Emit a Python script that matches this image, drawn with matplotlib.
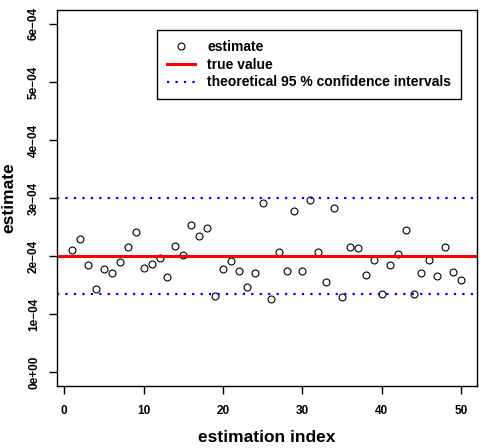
import numpy as np
import matplotlib
matplotlib.use("Agg")
import matplotlib.pyplot as plt
from matplotlib.lines import Line2D

plt.rcParams["font.family"] = ["Liberation Sans", "DejaVu Sans"]
plt.rcParams["font.weight"] = "bold"

# estimates (units of 1e-4)
idx = np.arange(1, 51)
est = np.array([
    2.11, 2.30, 1.85, 1.44, 1.78, 1.70, 1.89, 2.15, 2.42, 1.79,
    1.86, 1.96, 1.63, 2.17, 2.02, 2.53, 2.35, 2.49, 1.31, 1.77,
    1.91, 1.75, 1.46, 1.70, 2.91, 1.26, 2.07, 1.74, 2.78, 1.75,
    2.96, 2.07, 1.56, 2.82, 1.29, 2.16, 2.13, 1.67, 1.93, 1.35,
    1.84, 2.04, 2.44, 1.34, 1.71, 1.94, 1.65, 2.16, 1.73, 1.58,
]) * 1e-4
true_value = 2.0e-4
ci_low = 1.35e-4
ci_high = 3.0e-4

yticks = np.arange(0, 7) * 1e-4
ytick_labels = ["0e+00", "1e\u221204", "2e\u221204", "3e\u221204",
                "4e\u221204", "5e\u221204", "6e\u221204"]
xticks = [0, 10, 20, 30, 40, 50]

fig = plt.figure(figsize=(4.82, 4.48), dpi=100)
ax = fig.add_axes([0.1176, 0.1384, 0.8714, 0.9777 - 0.1384])

ax.plot(idx, est, "o", mfc="none", mec="black", ms=5, mew=0.8)
ax.axhline(true_value, color="red", lw=2.2)
dot = (0, (1, 2.8))
ax.axhline(ci_low, color="blue", lw=1.6, ls=dot, dash_capstyle="butt")
ax.axhline(ci_high, color="blue", lw=1.6, ls=dot, dash_capstyle="butt")

ax.set_xlim(-0.96, 51.96)
ax.set_ylim(-0.24e-4, 6.24e-4)
ax.set_xticks(xticks)
ax.set_xticklabels([str(t) for t in xticks], fontsize=8.5, fontweight="bold")
ax.set_yticks(yticks)
ax.set_yticklabels(ytick_labels, fontsize=8.5, fontweight="bold",
                   rotation=90, va="center")
ax.tick_params(direction="out", length=6, width=1)
ax.tick_params(axis="x", pad=8)
ax.tick_params(axis="y", pad=6)
for s in ax.spines.values():
    s.set_linewidth(1)

ax.set_xlabel("estimation index", fontsize=12.5, fontweight="bold", labelpad=9)
ax.set_ylabel("estimate", fontsize=12.5, fontweight="bold", va="center")
ax.yaxis.set_label_coords(-0.114, 0.5)

handles = [
    Line2D([], [], marker="o", ls="none", mfc="none", mec="black", ms=5, mew=0.8),
    Line2D([], [], color="red", lw=2.2),
    Line2D([], [], color="blue", lw=1.6, ls=dot, dash_capstyle="butt"),
]
labels = ["estimate", "true value", "theoretical 95 % confidence intervals"]
leg = ax.legend(handles, labels, loc="upper left", bbox_to_anchor=(0.2395, 0.947),
                fontsize=10, frameon=True, fancybox=False, edgecolor="black",
                framealpha=1, handlelength=2.0, handletextpad=0.9,
                labelspacing=0.28, borderpad=0.7, borderaxespad=0)
leg.get_frame().set_linewidth(1)
for t in leg.get_texts():
    t.set_fontweight("bold")

fig.savefig("out.png", dpi=100)
